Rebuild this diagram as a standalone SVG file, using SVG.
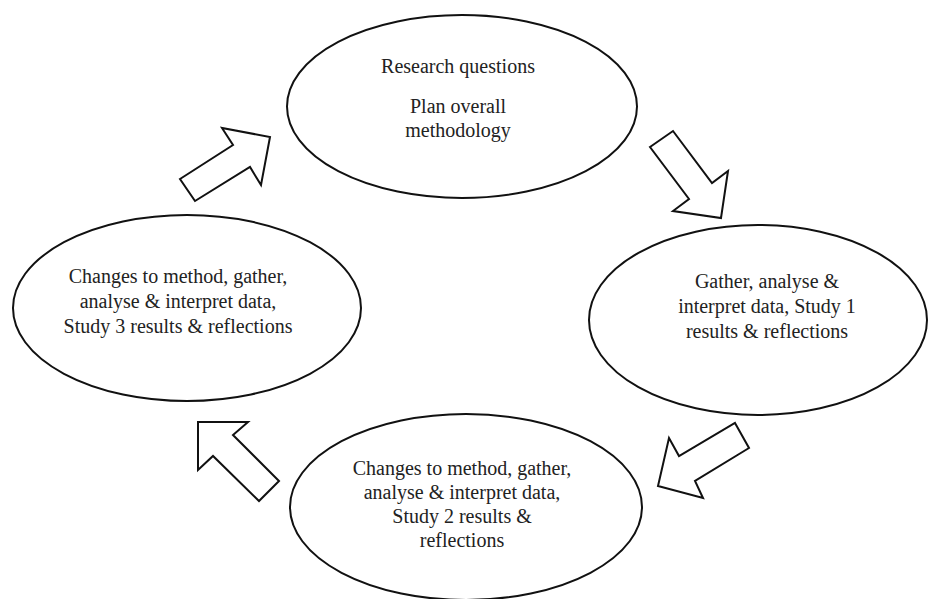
<svg xmlns="http://www.w3.org/2000/svg" width="928" height="599" viewBox="0 0 928 599">
<style>
.node{fill:#fff;stroke:#111;stroke-width:2}
.arr{fill:#fff;stroke:#111;stroke-width:2;stroke-linejoin:miter}
text{font-family:"Liberation Serif","Times New Roman",serif;font-size:20px;fill:#222;text-anchor:middle}
</style>
<rect width="928" height="599" fill="#fff"/>
<g id="connectors">
<polygon class="arr" points="180,179 233,145 222,128 270,137 261,185 250,167 195,201"/>
<polygon class="arr" points="650,147 673,131 712,183 728,171 721,218 673,211 689,199"/>
<polygon class="arr" points="735,423 749,448 695,481 703,498 658,486 669,438 679,456"/>
<polygon class="arr" points="279,481 259,501 213,456 198,470 198,422 248,422 233,435"/>
</g>
<g id="n1">
<ellipse class="node" cx="462" cy="106.5" rx="175" ry="91.5"/>
<text x="458" y="73">Research questions</text>
<text x="458" y="113">Plan overall</text>
<text x="458" y="137">methodology</text>
</g>
<g id="n2">
<ellipse class="node" cx="758" cy="320" rx="169" ry="95"/>
<text x="767" y="288">Gather, analyse &amp;</text>
<text x="767" y="313">interpret data, Study 1</text>
<text x="767" y="338">results &amp; reflections</text>
</g>
<g id="n3">
<ellipse class="node" cx="466" cy="507" rx="176" ry="93"/>
<text x="462" y="475">Changes to method, gather,</text>
<text x="462" y="499">analyse &amp; interpret data,</text>
<text x="462" y="523">Study 2 results &amp;</text>
<text x="462" y="547">reflections</text>
</g>
<g id="n4">
<ellipse class="node" cx="187" cy="308" rx="174" ry="93"/>
<text x="178" y="283">Changes to method, gather,</text>
<text x="178" y="308">analyse &amp; interpret data,</text>
<text x="178" y="333">Study 3 results &amp; reflections</text>
</g>
</svg>
